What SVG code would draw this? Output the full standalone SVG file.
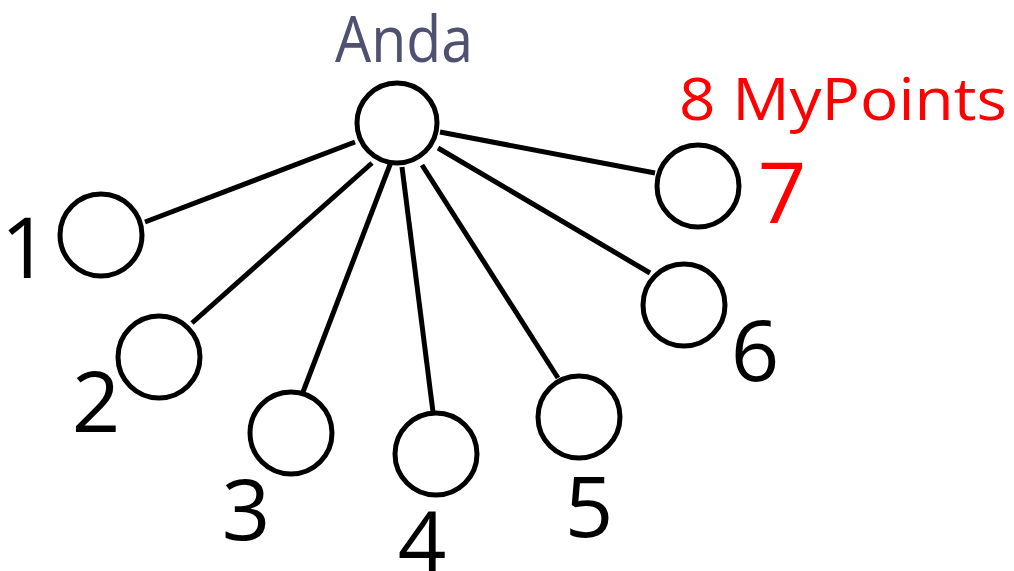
<svg xmlns="http://www.w3.org/2000/svg" width="1014" height="571" viewBox="0 0 1014 571">
<style>
.n{fill:#fff;stroke:#000;stroke-width:5}
.e{stroke:#000;stroke-width:5;stroke-linecap:butt}
.t{font-family:"Open Sans","Noto Sans",sans-serif}
.d{font-size:85px;fill:#000;text-anchor:middle}
.r{fill:#ff0000}
</style>
<rect width="1014" height="571" fill="#fff"/>
<g id="connectors">
<line class="e" x1="355" y1="142" x2="145" y2="222"/>
<line class="e" x1="372" y1="163" x2="192" y2="323"/>
<line class="e" x1="391" y1="162" x2="303" y2="392"/>
<line class="e" x1="402" y1="167" x2="433" y2="412"/>
<line class="e" x1="422" y1="165" x2="558" y2="378"/>
<line class="e" x1="438" y1="148" x2="650" y2="273"/>
<line class="e" x1="440" y1="132" x2="655" y2="173"/>
</g>
<g id="anda">
<circle class="n" cx="397" cy="123" r="40"/>
<text class="t" x="404" y="62" font-size="64" fill="#505070" text-anchor="middle" textLength="138" lengthAdjust="spacingAndGlyphs">Anda</text>
</g>
<g id="node1">
<circle class="n" cx="101" cy="235" r="41"/>
<text class="t d" x="25" y="278">1</text>
</g>
<g id="node2">
<circle class="n" cx="159" cy="357" r="41"/>
<text class="t d" x="96" y="432">2</text>
</g>
<g id="node3">
<circle class="n" cx="291" cy="433" r="41"/>
<text class="t d" x="246" y="540">3</text>
</g>
<g id="node4">
<circle class="n" cx="436" cy="454" r="41"/>
<text class="t d" x="422" y="572">4</text>
</g>
<g id="node5">
<circle class="n" cx="579" cy="417" r="41"/>
<text class="t d" x="589" y="537">5</text>
</g>
<g id="node6">
<circle class="n" cx="684" cy="305" r="41"/>
<text class="t d" x="755" y="381">6</text>
</g>
<g id="node7">
<circle class="n" cx="698" cy="186" r="41"/>
<text class="t d r" x="782" y="223">7</text>
<text class="t r" x="679" y="120" font-size="58" textLength="328" lengthAdjust="spacingAndGlyphs">8 MyPoints</text>
</g>
</svg>
